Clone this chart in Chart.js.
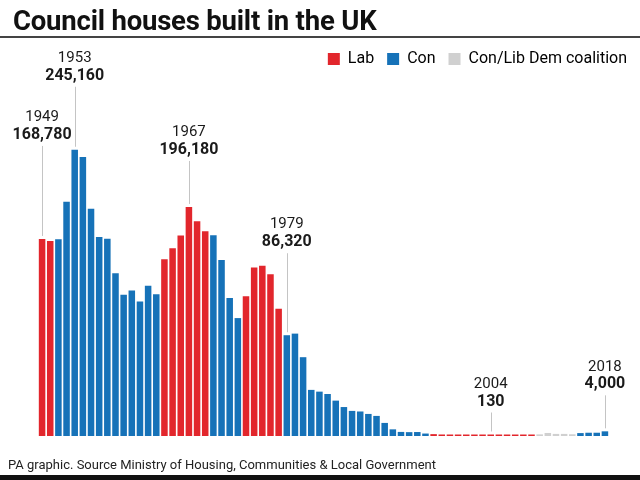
<!DOCTYPE html>
<html>
<head>
<meta charset="utf-8">
<script src="https://cdn.jsdelivr.net/npm/chart.js@4.4.0/dist/chart.umd.min.js"></script>
<style>
  body { margin: 0; background: #fff; }
  #page { position: relative; width: 640px; height: 480px; overflow: hidden; font-family: Roboto, sans-serif; color: #111; }
  #chartBox { position: absolute; left: 0; top: 0; width: 640px; height: 480px; }
  #title { position: absolute; left: 13px; top: 4px; font-weight: bold; font-size: 27.5px; letter-spacing: -0.2px; white-space: nowrap; }
  #rule { position: absolute; left: 0; top: 36px; width: 640px; height: 2px; background: #444; }
  #source { position: absolute; left: 8px; top: 457px; font-size: 13px; white-space: nowrap; color: #222; }
  #foot { position: absolute; left: 0; top: 475px; width: 640px; height: 5px; background: #111; }
</style>
</head>
<body>
<div id="page">
  <div id="chartBox"><canvas id="c"></canvas></div>
  <div id="title">Council houses built in the UK</div>
  <div id="rule"></div>
  <div id="source">PA graphic. Source Ministry of Housing, Communities &amp; Local Government</div>
  <div id="foot"></div>
</div>
<script>
// years 1949 - 2018
var years = ['1949','1950','1951','1952','1953','1954','1955','1956','1957','1958',
  '1959','1960','1961','1962','1963','1964','1965','1966','1967','1968',
  '1969','1970','1971','1972','1973','1974','1975','1976','1977','1978',
  '1979','1980','1981','1982','1983','1984','1985','1986','1987','1988',
  '1989','1990','1991','1992','1993','1994','1995','1996','1997','1998',
  '1999','2000','2001','2002','2003','2004','2005','2006','2007','2008',
  '2009','2010','2011','2012','2013','2014','2015','2016','2017','2018'];

var houses = [168780, 167000, 168500, 200700, 245160, 239000, 194700, 170500, 169000, 139500,
  121000, 124700, 115300, 128700, 121500, 151400, 160800, 171700, 196180, 184000,
  175300, 172000, 150700, 118100, 101000, 119600, 144300, 145800, 138600, 109000,
  86320, 87700, 67500, 39500, 38000, 36000, 30300, 24800, 21500, 21000,
  18900, 17200, 11200, 5700, 3500, 3300, 3400, 2100, 1600, 1300,
  500, 400, 500, 400, 400, 130, 300, 400, 400, 900,
  1000, 1400, 2600, 1800, 1800, 1500, 2500, 2800, 2800, 4000];

// L = Lab, C = Con, X = Con/Lib Dem coalition
var govt = ['L','L','C','C','C','C','C','C','C','C',
  'C','C','C','C','C','L','L','L','L','L',
  'L','C','C','C','C','L','L','L','L','L',
  'C','C','C','C','C','C','C','C','C','C',
  'C','C','C','C','C','C','C','C','L','L',
  'L','L','L','L','L','L','L','L','L','L',
  'L','X','X','X','X','X','C','C','C','C'];

var partyNames = ['Lab', 'Con', 'Con/Lib Dem coalition'];
var partyKeys = ['L', 'C', 'X'];

// labelled bars
var noteYears = ['1949', '1953', '1967', '1979', '2004', '2018'];
var noteTexts = ['168,780', '245,160', '196,180', '86,320', '130', '4,000'];

var colours = { L: '#e2262c', C: '#1672b8', X: '#d0d0d0' };

// how far above its bar each label sits
var noteLift = { '1949': 104, '1953': 74, '1967': 57, '1979': 93, '2004': 33, '2018': 47 };

var notesPlugin = {
  id: 'notes',
  afterDatasetsDraw: function(chart) {
    var ctx = chart.ctx;
    var meta = chart.getDatasetMeta(0);
    ctx.save();
    ctx.textAlign = 'center';
    ctx.textBaseline = 'middle';
    noteYears.forEach(function(yr, n) {
      var i = years.indexOf(yr);
      var bar = meta.data[i];
      var top = Math.min(bar.y, bar.base);
      var lift = noteLift[yr];
      var valY = top - lift;
      ctx.strokeStyle = '#c4c4c4';
      ctx.lineWidth = 1;
      ctx.beginPath();
      ctx.moveTo(Math.round(bar.x) + 0.5, valY + 11);
      ctx.lineTo(Math.round(bar.x) + 0.5, top - 3);
      ctx.stroke();
      ctx.fillStyle = '#1a1a1a';
      ctx.font = 'bold 16px Roboto';
      ctx.fillText(noteTexts[n], bar.x, valY);
      ctx.font = '15px Roboto';
      ctx.fillText(yr, bar.x, valY - 17.5);
    });
    ctx.restore();
  }
};

new Chart(document.getElementById('c'), {
  type: 'bar',
  data: {
    labels: years,
    datasets: [{
      data: houses,
      backgroundColor: govt.map(function(g) { return colours[g]; }),
      barPercentage: 0.8,
      categoryPercentage: 1,
      minBarLength: 1.5
    }]
  },
  options: {
    responsive: true,
    maintainAspectRatio: false,
    animation: false,
    layout: { padding: { left: 38, right: 0, top: 38, bottom: 44 } },
    scales: {
      x: { display: false },
      y: {
        position: 'right',
        min: 0,
        max: 307500,
        grid: { display: false },
        border: { display: false },
        ticks: { display: false },
        afterFit: function(scale) { scale.width = 31; }
      }
    },
    plugins: {
      tooltip: { enabled: false },
      legend: {
        position: 'top',
        align: 'end',
        labels: {
          boxWidth: 12,
          boxHeight: 12,
          padding: 13,
          color: '#1a1a1a',
          font: { family: 'Roboto', size: 16 },
          generateLabels: function() {
            return partyNames.map(function(name, k) {
              return {
                text: name,
                fillStyle: colours[partyKeys[k]],
                strokeStyle: colours[partyKeys[k]],
                lineWidth: 0,
                hidden: false,
                datasetIndex: 0
              };
            });
          }
        },
        onClick: function() {}
      }
    }
  },
  plugins: [notesPlugin]
});
</script>
</body>
</html>
